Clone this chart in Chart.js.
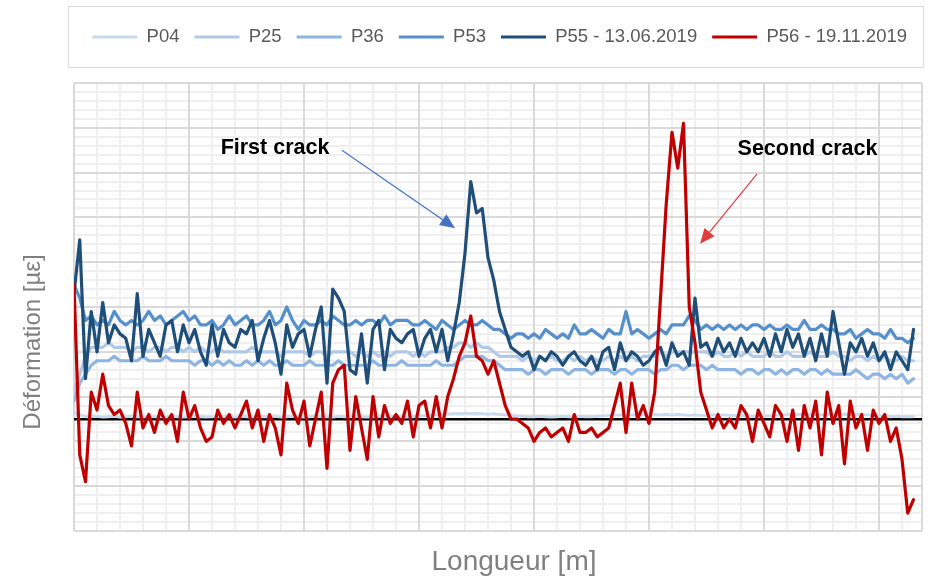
<!DOCTYPE html>
<html>
<head>
<meta charset="utf-8">
<script src="https://cdn.jsdelivr.net/npm/chart.js@4.4.1/dist/chart.umd.min.js"></script>
<style>
  html, body { margin: 0; padding: 0; background: #ffffff; }
  canvas { display: block; }
</style>
</head>
<body>
<canvas id="strainChart" width="935" height="583"></canvas>
<script>
// Measuring positions along the fibre [m]
const positions = [
  0,0.25,0.5,0.75,1,1.25,1.5,1.75,2,2.25,2.5,2.75,3,3.25,3.5,3.75,4,4.25,4.5,4.75,
  5,5.25,5.5,5.75,6,6.25,6.5,6.75,7,7.25,7.5,7.75,8,8.25,8.5,8.75,9,9.25,9.5,9.75,
  10,10.25,10.5,10.75,11,11.25,11.5,11.75,12,12.25,12.5,12.75,13,13.25,13.5,13.75,14,14.25,14.5,14.75,
  15,15.25,15.5,15.75,16,16.25,16.5,16.75,17,17.25,17.5,17.75,18,18.25,18.5,18.75,19,19.25,19.5,19.75,
  20,20.25,20.5,20.75,21,21.25,21.5,21.75,22,22.25,22.5,22.75,23,23.25,23.5,23.75,24,24.25,24.5,24.75,
  25,25.25,25.5,25.75,26,26.25,26.5,26.75,27,27.25,27.5,27.75,28,28.25,28.5,28.75,29,29.25,29.5,29.75,
  30,30.25,30.5,30.75,31,31.25,31.5,31.75,32,32.25,32.5,32.75,33,33.25,33.5,33.75,34,34.25,34.5,34.75,
  35,35.25,35.5,35.75,36,36.25,36.5
];

// Strain readings per measurement campaign [µε]
const p04 = [
  1.5,1,0.5,0.5,0.6,0.4,0.5,0.6,0.4,0.5,
  0.6,0.5,0.4,0.6,0.5,0.5,0.4,0.6,0.5,0.4,
  0.5,0.6,0.5,0.4,0.5,0.6,0.5,0.5,0.4,0.6,
  0.5,0.4,0.6,0.5,0.5,0.6,0.4,0.5,0.6,0.5,
  0.4,0.5,0.6,0.5,0.5,0.4,0.6,0.5,0.5,0.6,
  0.5,0.4,0.5,0.6,0.5,0.5,0.6,0.5,0.4,0.5,
  0.6,0.7,0.8,0.9,1.0,1.1,1.2,1.2,1.3,1.2,
  1.3,1.2,1.1,1.2,1.0,0.9,0.8,0.7,0.6,0.5,
  0.5,0.6,0.5,0.4,0.5,0.6,0.5,0.5,0.6,0.5,
  0.5,0.6,0.7,0.8,0.8,0.9,0.8,0.9,0.8,0.9,
  0.9,1.0,0.9,1.0,0.9,1.0,0.9,0.8,0.9,0.8,
  0.8,0.9,0.8,0.9,0.8,0.7,0.8,0.7,0.6,0.7,
  0.6,0.7,0.8,0.9,1.0,0.9,1.0,0.9,1.0,1.0,
  0.9,1.0,1.1,1.0,1.1,1.0,1.1,1.0,0.9,0.8,
  0.7,0.6,0.5,0.6,0.5,0.5,0.5
];
const p25 = [
  6,10,14,16,16,16,17,16,16,16,
  15,16,16,15,16,16,15,16,16,15,
  16,15,16,15,15,16,15,15,15,15,
  15,16,15,15,15,15,14,15,15,15,
  15,14,15,15,14,15,15,15,15,14,
  15,14,15,14,15,14,15,15,15,14,
  15,14,15,15,15,16,16,17,17,16,
  17,16,16,15,14,14,14,14,13,14,
  13,14,13,14,13,13,14,13,14,13,
  14,13,13,14,13,14,13,14,13,14,
  14,14,15,14,15,15,15,15,15,15,
  15,14,15,14,14,15,14,15,14,14,
  14,15,14,14,15,14,14,14,15,14,
  14,14,15,14,14,13,14,14,13,14,
  13,14,13,13,14,13,13
];
const p36 = [
  4,8,10,12,13,13,13,14,13,13,
  13,13,14,13,13,13,14,13,13,13,
  13,12,13,13,12,13,12,13,12,12,
  13,12,13,12,13,12,12,13,12,12,
  12,13,12,12,12,12,13,12,12,12,
  12,12,13,12,12,12,12,13,12,12,
  12,12,12,13,12,12,12,13,14,14,
  14,14,13,13,12,11,11,11,11,10,
  11,11,10,11,11,11,10,11,11,11,
  10,11,11,11,10,11,11,10,11,11,
  11,10,11,11,12,12,11,12,12,12,
  11,12,11,11,11,11,10,11,11,10,
  11,11,10,11,10,11,11,10,11,11,
  10,11,10,10,10,10,11,10,9,10,
  10,9,10,9,10,8,9
];
const p53 = [
  30,27,22,23,21,22,21,24,22,21,
  22,21,22,24,22,23,21,22,23,24,
  22,23,21,21,22,20,21,23,21,22,
  23,21,21,22,24,21,22,25,22,20,
  22,21,21,22,21,23,22,21,21,22,
  21,22,22,21,23,21,22,22,22,21,
  21,22,21,20,22,21,20,21,22,21,
  21,22,21,20,20,19,18,19,19,18,
  19,18,20,19,18,19,18,21,19,19,
  20,19,18,20,19,19,24,19,20,19,
  18,19,20,19,21,21,21,23,22,20,
  21,20,21,20,21,20,21,20,21,21,
  20,21,20,20,21,20,20,22,20,20,
  21,20,20,19,19,20,18,19,20,19,
  19,18,20,18,18,17,18
];
const p55 = [
  28,40,9,24,15,26,17,21,19,18,
  13,28,14,20,17,14,21,22,15,21,
  17,20,15,12,21,14,20,17,16,20,
  19,22,13,18,22,17,10,21,16,19,
  20,14,20,25,8,29,27,24,11,10,
  19,8,20,22,11,20,18,17,19,20,
  14,18,20,15,20,13,19,26,37,53,
  46,47,36,31,24,20,16,15,14,15,
  11,14,13,15,14,12,14,15,13,12,
  14,11,15,16,11,17,13,15,14,12,
  13,15,16,12,17,14,15,12,27,16,
  17,14,18,15,17,14,18,15,17,15,
  18,14,19,15,20,16,19,14,18,13,
  19,14,24,17,10,17,15,18,14,17,
  13,15,11,15,13,11,20
];
const p56 = [
  30,-8,-14,6,2,10,3,1,2,-1,
  -6,6,-2,1,-3,2,-1,1,-5,6,
  0,3,-2,-5,-4,2,-1,1,-2,1,
  4,-2,2,-5,1,-2,-8,8,2,-1,
  4,-6,0,6,-11,8,11,12,-7,5,
  -2,-9,5,-4,3,-1,1,-1,4,-4,
  3,4,-2,5,-2,5,9,14,17,23,
  14,13,10,13,8,3,0,0,-1,-2,
  -5,-3,-2,-4,-3,-2,-5,1,-3,-3,
  -2,-4,-3,-2,3,8,-3,8,0,3,
  -1,6,27,48,64,56,66,25,17,6,
  2,-2,1,-2,0,-2,3,1,-5,2,
  -1,-4,3,1,-5,2,-7,3,-2,4,
  -8,6,-1,3,-10,4,-2,1,-7,2,
  -1,1,-5,-2,-9,-21,-18
];

const seriesLabels = ['P04', 'P25', 'P36', 'P53', 'P55 - 13.06.2019', 'P56 - 19.11.2019'];
const seriesValues = [p04, p25, p36, p53, p55, p56];
const seriesColors = ['#c9d9ee', '#b0c9e8', '#8db4e2', '#5590cc', '#1f4e79', '#c00000'];
const seriesWidths = [2.8, 3.2, 3.2, 3.2, 3.2, 3.2];

// Callouts pointing at the two cracks (axis units)
const callouts = [
  { text: 'First crack',  at: [8.74, 60.5],  from: [11.65, 60.0], to: [16.57, 42.6], color: '#4472c4' },
  { text: 'Second crack', at: [31.89, 60.3], from: [29.70, 54.7], to: [27.22, 39.1], color: '#e03c3c' }
];

const xTitle = 'Longueur [m]';
const yTitle = 'Déformation [µε]';

const FONT = "'Liberation Sans', Arial, sans-serif";
const X_MAX = 36.87;
const Y_MIN = -25, Y_MAX = 75;
const GRID_MAJOR = '#d9d9d9';
const GRID_MINOR = '#efefef';
const TITLE_GREY = '#808080';

const toPoints = ys => positions.map((x, i) => ({ x, y: ys[i] }));

const xMajorTicks = [0, 5, 10, 15, 20, 25, 30, 35, X_MAX];
const xMinorTicks = [];
for (let v = 1; v < X_MAX; v++) if (v % 5 !== 0) xMinorTicks.push(v);
const yMajorTicks = [0];
for (let v = Y_MIN; v <= Y_MAX; v += 10) yMajorTicks.push(v);
const yMinorTicks = [];
for (let v = Y_MIN; v <= Y_MAX; v += 2) if ((v - Y_MIN) % 10 !== 0) yMinorTicks.push(v);

const setTicks = list => scale => { scale.ticks = list.map(v => ({ value: v })); };

// Frame around the legend and the two axis titles
const frameAndTitles = {
  id: 'frameAndTitles',
  afterDraw(chart) {
    const { ctx, chartArea, legend } = chart;
    const left = Math.round(chartArea.left - 6) + 0.5;
    const right = Math.round(chartArea.right + 1) + 0.5;
    const top = Math.round(legend.top - 7) + 0.5;
    const bottom = top + 61;
    ctx.save();
    ctx.strokeStyle = '#d9d9d9';
    ctx.lineWidth = 1;
    ctx.strokeRect(left, top, right - left, bottom - top);

    ctx.fillStyle = TITLE_GREY;
    ctx.textAlign = 'center';
    ctx.textBaseline = 'middle';
    ctx.font = '28px ' + FONT;
    ctx.fillText(xTitle, (chartArea.left + chartArea.right) / 2 + 16, chartArea.bottom + 31);

    ctx.translate(33, (chartArea.top + chartArea.bottom) / 2 + 35);
    ctx.rotate(-Math.PI / 2);
    ctx.font = '24px ' + FONT;
    ctx.fillText(yTitle, 0, 0);
    ctx.restore();
  }
};

const crackCallouts = {
  id: 'crackCallouts',
  afterDatasetsDraw(chart) {
    const { ctx, scales: { x, y } } = chart;
    ctx.save();
    callouts.forEach(c => {
      const x1 = x.getPixelForValue(c.from[0]), y1 = y.getPixelForValue(c.from[1]);
      const x2 = x.getPixelForValue(c.to[0]), y2 = y.getPixelForValue(c.to[1]);
      const ang = Math.atan2(y2 - y1, x2 - x1);
      const head = 15, half = 6.5;
      const bx = x2 - head * Math.cos(ang), by = y2 - head * Math.sin(ang);
      ctx.strokeStyle = c.color;
      ctx.lineWidth = 1.2;
      ctx.beginPath();
      ctx.moveTo(x1, y1);
      ctx.lineTo(bx, by);
      ctx.stroke();
      ctx.fillStyle = c.color;
      ctx.beginPath();
      ctx.moveTo(x2, y2);
      ctx.lineTo(bx - half * Math.sin(ang), by + half * Math.cos(ang));
      ctx.lineTo(bx + half * Math.sin(ang), by - half * Math.cos(ang));
      ctx.closePath();
      ctx.fill();
      ctx.font = 'bold 21.5px ' + FONT;
      ctx.fillStyle = '#000000';
      ctx.textAlign = 'center';
      ctx.textBaseline = 'middle';
      ctx.fillText(c.text, x.getPixelForValue(c.at[0]), y.getPixelForValue(c.at[1]));
    });
    ctx.restore();
  }
};

const ctx = document.getElementById('strainChart').getContext('2d');
new Chart(ctx, {
  type: 'line',
  data: {
    datasets: seriesLabels.map((label, k) => ({
      label,
      data: toPoints(seriesValues[k]),
      borderColor: seriesColors[k],
      backgroundColor: seriesColors[k],
      borderWidth: seriesWidths[k],
      borderJoinStyle: 'round',
      borderCapStyle: 'round',
      pointRadius: 0,
      tension: 0,
      fill: false,
      order: seriesLabels.length - k
    }))
  },
  options: {
    responsive: false,
    animation: false,
    events: [],
    layout: { padding: { top: 12.75, left: 0, right: 13, bottom: 0 } },
    plugins: {
      tooltip: { enabled: false },
      legend: {
        position: 'top',
        align: 'end',
        labels: {
          color: '#595959',
          font: { family: FONT, size: 18.5 },
          boxWidth: 45,
          boxHeight: 3,
          padding: 15,
          sort: (a, b) => a.datasetIndex - b.datasetIndex,
          generateLabels: chart =>
            Chart.defaults.plugins.legend.labels.generateLabels(chart)
              .map(item => Object.assign(item, { fillStyle: item.strokeStyle, lineWidth: 0 }))
        }
      }
    },
    scales: {
      x: {
        type: 'linear', position: 'bottom', min: 0, max: X_MAX,
        afterBuildTicks: setTicks(xMajorTicks),
        afterFit: s => { s.height = 52; },
        ticks: { display: false },
        border: { display: false },
        grid: { color: GRID_MAJOR, lineWidth: 2, drawTicks: false }
      },
      xMinor: {
        axis: 'x', type: 'linear', position: 'top', min: 0, max: X_MAX,
        afterBuildTicks: setTicks(xMinorTicks),
        afterFit: s => { s.height = 26.75; },
        ticks: { display: false },
        border: { display: false },
        grid: { color: GRID_MINOR, lineWidth: 2, drawTicks: false, z: -2 }
      },
      y: {
        type: 'linear', position: 'left', min: Y_MIN, max: Y_MAX,
        afterBuildTicks: setTicks(yMajorTicks),
        afterFit: s => { s.width = 74; },
        ticks: { display: false },
        border: { display: false },
        grid: {
          color: c => (c.tick.value === 0 ? '#000000' : GRID_MAJOR),
          lineWidth: c => (c.tick.value === 0 ? 2.5 : 2),
          drawTicks: false
        }
      },
      yMinor: {
        axis: 'y', type: 'linear', position: 'right', min: Y_MIN, max: Y_MAX,
        afterBuildTicks: setTicks(yMinorTicks),
        afterFit: s => { s.width = 0; },
        ticks: { display: false },
        border: { display: false },
        grid: { color: GRID_MINOR, lineWidth: 2, drawTicks: false, z: -2 }
      }
    }
  },
  plugins: [frameAndTitles, crackCallouts]
});
</script>
</body>
</html>
